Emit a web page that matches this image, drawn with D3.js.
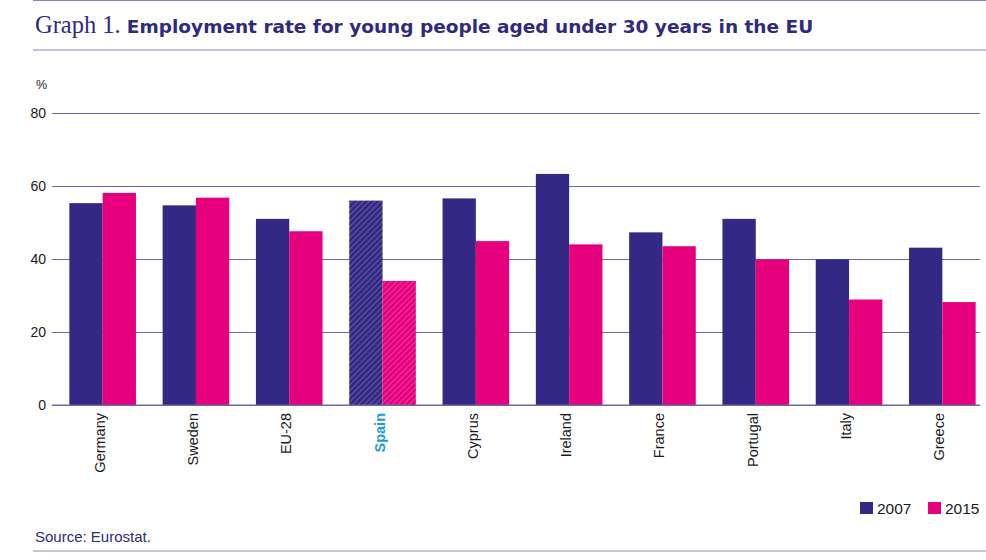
<!DOCTYPE html>
<html>
<head>
<meta charset="utf-8">
<script src="https://cdn.jsdelivr.net/npm/d3@7"></script>
<style>
  body { margin: 0; background: #fff; }
  svg { display: block; }
</style>
</head>
<body>
<div id="chart"></div>
<script>
// Data
const countries = ['Germany', 'Sweden', 'EU-28', 'Spain', 'Cyprus', 'Ireland', 'France', 'Portugal', 'Italy', 'Greece'];
const rate2007 = [55.3, 54.7, 51.0, 56.0, 56.6, 63.3, 47.3, 51.0, 39.9, 43.1];
const rate2015 = [58.1, 56.8, 47.6, 34.0, 44.9, 44.0, 43.5, 39.9, 28.9, 28.2];
const years = ['2007', '2015'];
const yTicks = [0, 20, 40, 60, 80];
const highlight = 'Spain';

const W = 986, H = 560;
const navy = '#332883', magenta = '#e6007e', grid = '#6e66ad', textBlue = '#2e2a7e';
const colors = { '2007': navy, '2015': magenta };
const sans = 'Liberation Sans, Arial, sans-serif';

const svg = d3.select('#chart').append('svg')
  .attr('width', W).attr('height', H);

// Hatch patterns for the highlighted country
const defs = svg.append('defs');
years.forEach((yr) => {
  const p = defs.append('pattern')
    .attr('id', 'hatch' + yr)
    .attr('patternUnits', 'userSpaceOnUse')
    .attr('width', 4).attr('height', 4)
    .attr('patternTransform', 'rotate(45)');
  p.append('rect').attr('width', 4).attr('height', 4).attr('fill', colors[yr]);
  p.append('line').attr('x1', 0).attr('y1', 0).attr('x2', 0).attr('y2', 4)
    .attr('stroke', '#ffffff').attr('stroke-opacity', 0.35).attr('stroke-width', 1.4);
});

// Frame lines and title
svg.append('line').attr('x1', 33).attr('x2', W).attr('y1', 0.5).attr('y2', 0.5)
  .attr('stroke', '#8a84bd').attr('stroke-width', 1);
svg.append('line').attr('x1', 33).attr('x2', W).attr('y1', 50).attr('y2', 50)
  .attr('stroke', '#8a84bd').attr('stroke-width', 1);
svg.append('line').attr('x1', 33).attr('x2', W).attr('y1', 551).attr('y2', 551)
  .attr('stroke', '#c6c5d3').attr('stroke-width', 2);

const title = svg.append('text').attr('x', 35).attr('y', 33).attr('fill', textBlue);
title.append('tspan').attr('font-family', 'Liberation Serif, serif').attr('font-size', 24.5)
  .text('Graph 1. ');
title.append('tspan').attr('font-family', 'DejaVu Sans, sans-serif')
  .attr('font-weight', 700).attr('font-size', 18.5)
  .text('Employment rate for young people aged under 30 years in the EU');

// Scales
const y = d3.scaleLinear().domain([0, 80]).range([405, 113]);
const x0 = d3.scaleBand().domain(countries).range([56, 989]).paddingInner(0.286).paddingOuter(0.143);
const x1 = d3.scaleBand().domain(years).range([0, x0.bandwidth()]);

// Gridlines
svg.append('g')
  .attr('transform', 'translate(52,0)')
  .call(d3.axisLeft(y).tickValues(yTicks).tickSize(-928).tickFormat(''))
  .call((g) => g.select('.domain').remove())
  .call((g) => g.selectAll('.tick line').attr('stroke', grid).attr('stroke-width', 1.2));

// Y tick labels
svg.append('g').selectAll('text')
  .data(yTicks).enter().append('text')
  .attr('x', 46).attr('y', (d) => y(d) + 5)
  .attr('text-anchor', 'end')
  .attr('font-family', sans).attr('font-size', 14)
  .attr('fill', '#1a1a1a')
  .text((d) => d);
svg.append('text').attr('x', 36).attr('y', 89)
  .attr('font-family', sans).attr('font-size', 12.5)
  .attr('fill', '#1a1a1a').text('%');

// Bars
const rows = countries.map((c, i) => ({ country: c, values: [
  { year: '2007', value: rate2007[i] },
  { year: '2015', value: rate2015[i] }
] }));

const groups = svg.append('g').selectAll('g')
  .data(rows).enter().append('g')
  .attr('transform', (d) => `translate(${x0(d.country)},0)`);

groups.selectAll('rect')
  .data((d) => d.values.map((v) => ({ ...v, country: d.country })))
  .enter().append('rect')
  .attr('x', (d) => x1(d.year))
  .attr('width', x1.bandwidth())
  .attr('y', (d) => y(d.value))
  .attr('height', (d) => y(0) - y(d.value))
  .attr('fill', (d) => d.country === highlight ? `url(#hatch${d.year})` : colors[d.year]);

// Baseline
svg.append('line').attr('x1', 52).attr('x2', 980).attr('y1', y(0)).attr('y2', y(0))
  .attr('stroke', grid).attr('stroke-width', 1.2);

// X labels (rotated)
svg.append('g').selectAll('text')
  .data(countries).enter().append('text')
  .attr('transform', (d) => `translate(${x0(d) + x0.bandwidth() / 2 + 2},413) rotate(-90)`)
  .attr('text-anchor', 'end')
  .attr('font-family', sans).attr('font-size', 14.5)
  .attr('font-weight', (d) => d === highlight ? 700 : 400)
  .attr('fill', (d) => d === highlight ? '#1a9ad6' : '#1a1a1a')
  .text((d) => d);

// Legend
const legend = svg.append('g').attr('transform', 'translate(860,502)');
years.forEach((yr, i) => {
  const g = legend.append('g').attr('transform', `translate(${i * 68},0)`);
  g.append('rect').attr('width', 13).attr('height', 12).attr('fill', colors[yr]);
  g.append('text').attr('x', 17).attr('y', 12)
    .attr('font-family', sans).attr('font-size', 15.5)
    .attr('fill', '#1a1a1a').text(yr);
});

// Source
svg.append('text').attr('x', 35).attr('y', 542)
  .attr('font-family', sans).attr('font-size', 15)
  .attr('fill', textBlue).text('Source: Eurostat.');
</script>
</body>
</html>
